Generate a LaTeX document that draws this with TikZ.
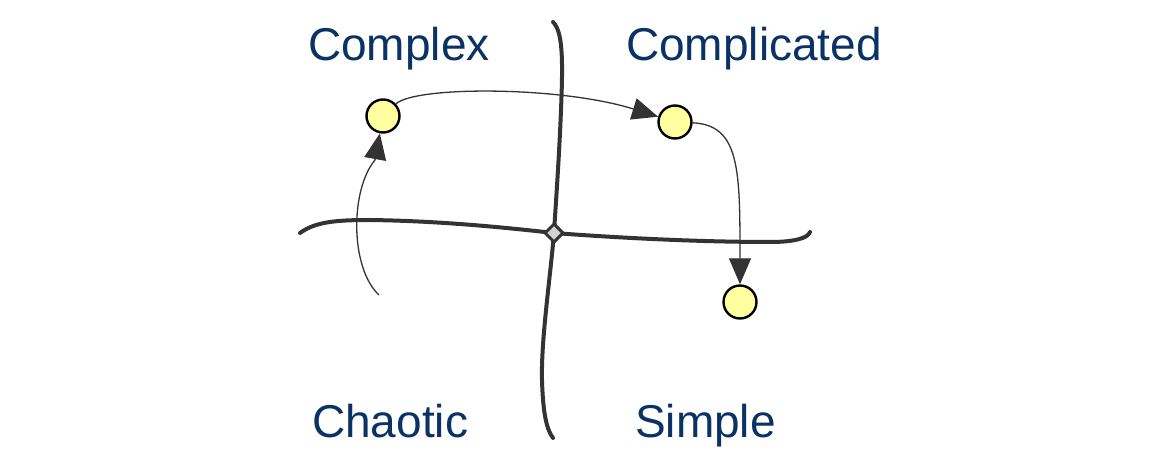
\documentclass[tikz,border=0pt]{standalone}
\usepackage{fontspec}
\setmainfont{Liberation Sans}
\usetikzlibrary{arrows.meta,shapes.geometric}
\definecolor{txtblue}{RGB}{10,50,100}
\definecolor{axisgray}{RGB}{51,51,51}
\definecolor{dotyellow}{RGB}{255,255,160}
\tikzset{
  label/.style={anchor=base west,inner sep=0pt,text=txtblue,font=\fontsize{46}{52}\selectfont},
  dot/.style={circle,draw=black,line width=2.4pt,fill=dotyellow,minimum size=33pt,inner sep=0pt},
  axisline/.style={draw=axisgray,line width=4pt,line cap=round},
  flow/.style={draw=axisgray,line width=1.3pt,-{Triangle[length=26pt,width=22pt]}},
  hub/.style={diamond,draw=axisgray,line width=3pt,fill=gray!35,minimum size=19pt,inner sep=0pt}
}
\begin{document}
\begin{tikzpicture}[x=1pt,y=-1pt]
\useasboundingbox (0,0) rectangle (1160,470);
% labels
\node[label] (complex) at (308,61) {Complex};
\node[label] (complicated) at (626,61) {Complicated};
\node[label] (chaotic) at (312,438) {Chaotic};
\node[label] (simple) at (635,438) {Simple};
% axis coordinates
\coordinate (vtop) at (553,22);
\coordinate (vbot) at (553,438);
\coordinate (hleft) at (300,233);
\coordinate (hright) at (810,232);
\coordinate (ctr) at (554,233);
% axes
\draw[axisline] (vtop) .. controls (563,32) and (563,60) .. (561,110)
   .. controls (559,160) and (556,200) .. (ctr)
   .. controls (550,280) and (541,340) .. (542,380)
   .. controls (543,415) and (547,430) .. (vbot);
\draw[axisline] (hleft) .. controls (315,222) and (335,220) .. (370,220)
   .. controls (440,221) and (500,227) .. (ctr)
   .. controls (620,238) and (700,242) .. (770,242)
   .. controls (795,242) and (808,238) .. (hright);
\node[hub] (hubnode) at (ctr) {};
% dots
\node[dot] (c1) at (383,116) {};
\node[dot] (c2) at (675,122) {};
\node[dot] (c3) at (740,302) {};
\coordinate (start) at (379,295);
% flows
\draw[flow] (start) .. controls (350,268) and (350,190) .. (375,160) -- (c1);
\draw[flow] (c1) .. controls (415,86) and (560,86) .. (c2);
\draw[flow] (c2) .. controls (740,125) and (740,170) .. (c3);
\end{tikzpicture}
\end{document}
